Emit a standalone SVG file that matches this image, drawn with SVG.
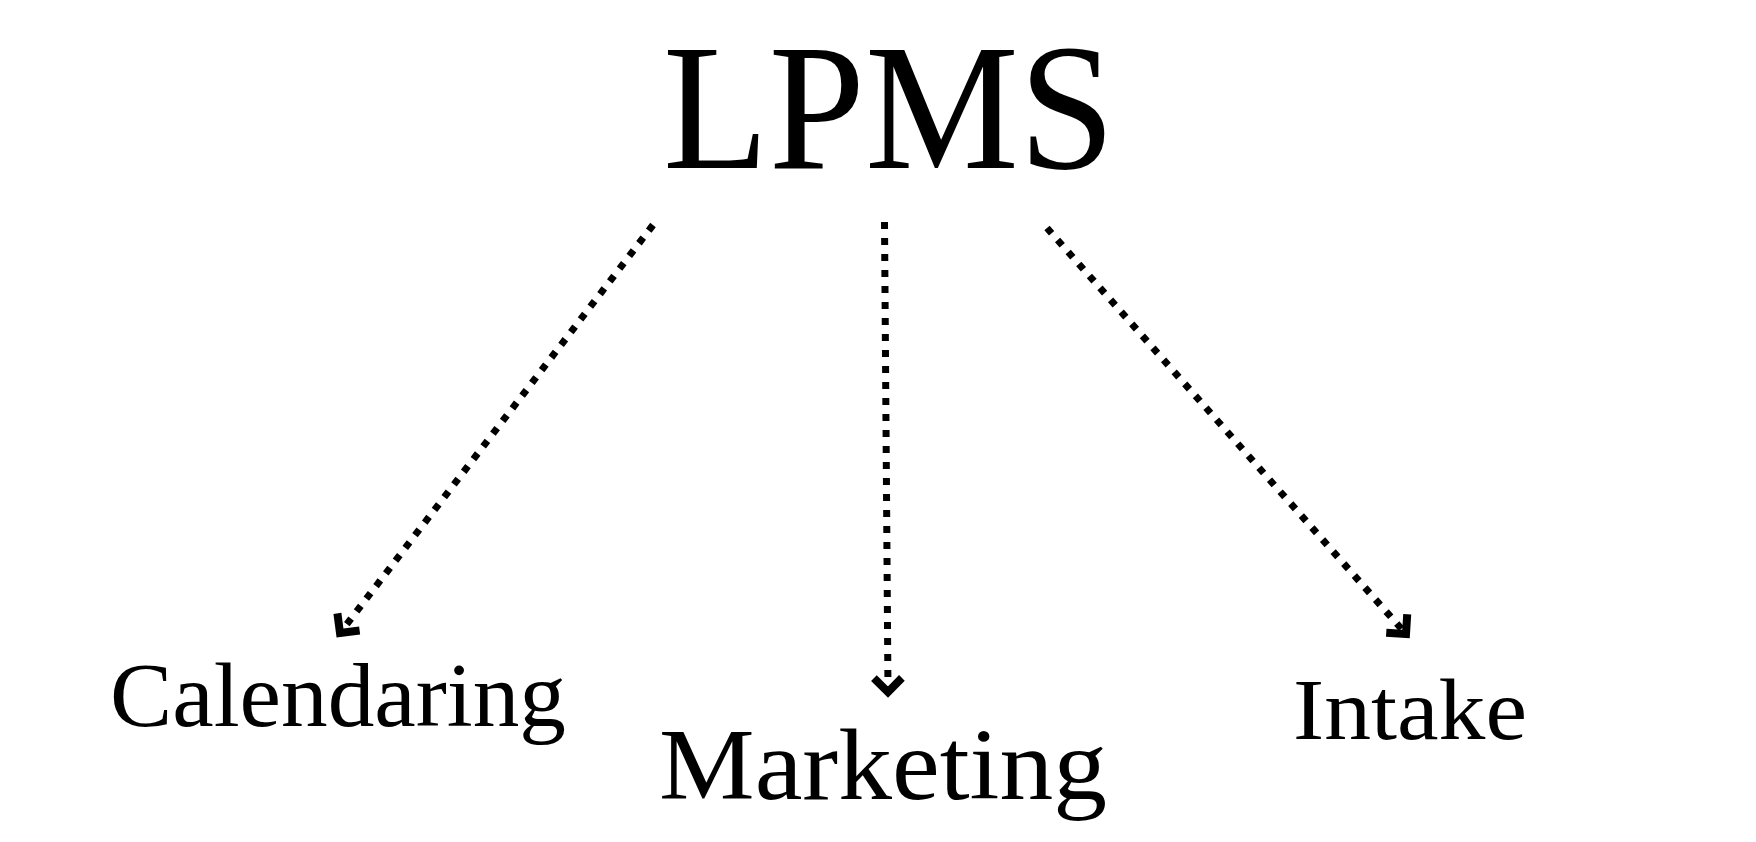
<svg xmlns="http://www.w3.org/2000/svg" width="1756" height="842" viewBox="0 0 1756 842">
  <style>
    .lbl { font-family: "Liberation Serif", "DejaVu Serif", serif; fill: #000; }
    .conn { stroke: #000; stroke-width: 7; stroke-dasharray: 7 9; fill: none; }
  </style>
  <defs>
    <marker id="chev" markerUnits="userSpaceOnUse" markerWidth="40" markerHeight="40" viewBox="-20 -20 40 40" refX="0" refY="0" orient="auto">
      <path d="M-14,-14 L0,0 L-14,14" fill="none" stroke="#000" stroke-width="8" stroke-linejoin="miter"/>
    </marker>
  </defs>
  <rect width="1756" height="842" fill="#fff"/>
  <g id="connectors">
    <line class="conn" x1="653" y1="225" x2="340" y2="633" marker-end="url(#chev)"/>
    <line class="conn" x1="884.5" y1="222" x2="888" y2="692" marker-end="url(#chev)"/>
    <line class="conn" x1="1047" y1="228" x2="1406" y2="634" marker-end="url(#chev)"/>
  </g>
  <g id="node-lpms">
    <text class="lbl" x="663" y="168" font-size="181" textLength="452" lengthAdjust="spacingAndGlyphs">LPMS</text>
  </g>
  <g id="node-calendaring">
    <text class="lbl" x="110" y="726" font-size="91" textLength="456" lengthAdjust="spacingAndGlyphs">Calendaring</text>
  </g>
  <g id="node-marketing">
    <text class="lbl" x="659" y="799" font-size="101" textLength="448" lengthAdjust="spacingAndGlyphs">Marketing</text>
  </g>
  <g id="node-intake">
    <text class="lbl" x="1293" y="739" font-size="87" textLength="234" lengthAdjust="spacingAndGlyphs">Intake</text>
  </g>
</svg>
